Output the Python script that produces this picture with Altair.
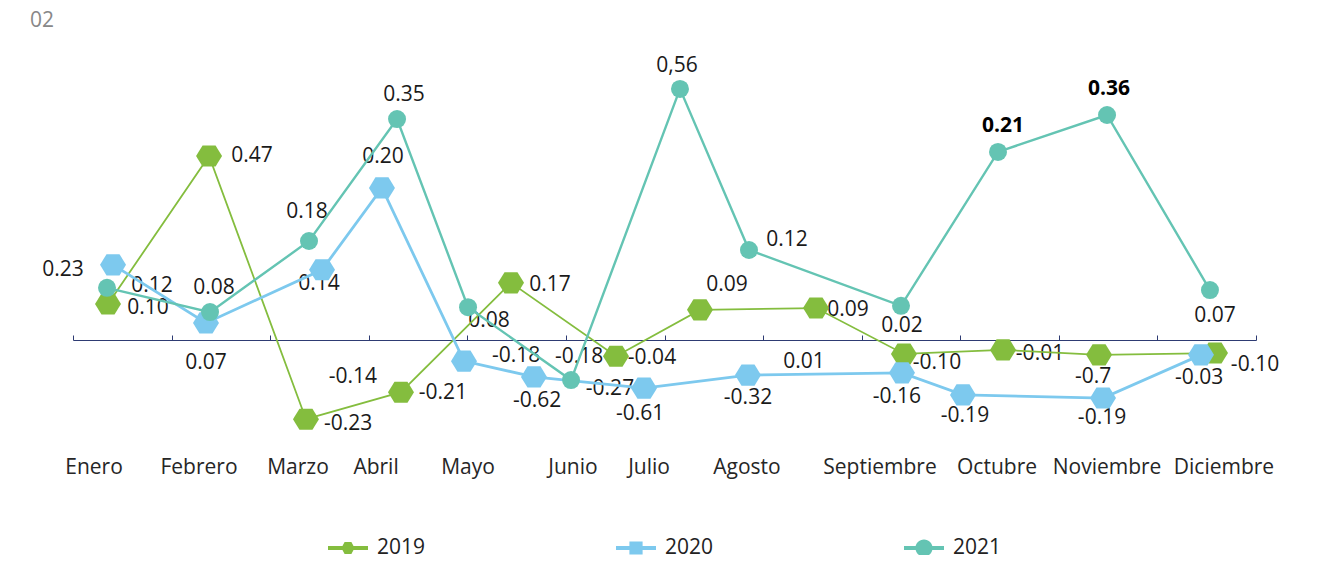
import altair as alt
import pandas as pd

# ---------------- data ----------------
months = ["Enero", "Febrero", "Marzo", "Abril", "Mayo", "Junio", "Julio",
          "Agosto", "Septiembre", "Octubre", "Noviembre", "Diciembre"]
# where each month name sits along the month axis (0..12)
month_pos = [0.213, 1.278, 2.282, 3.074, 4.007, 5.072, 5.843, 6.837,
             8.186, 9.373, 10.489, 11.675]

years = ["2019", "2020", "2021"]

x_2019 = [0.355, 1.380, 2.363, 3.327, 4.443, 5.508, 6.360, 7.537, 8.429, 9.434, 10.408, 11.584]
y_2019 = [0.080, 0.409, -0.176, -0.116, 0.127, -0.036, 0.067, 0.071, -0.031, -0.022, -0.033, -0.029]

x_2020 = [0.406, 1.349, 2.526, 3.134, 3.966, 4.676, 5.792, 6.847, 8.409, 9.028, 10.448, 11.442]
y_2020 = [0.167, 0.038, 0.156, 0.338, -0.047, -0.082, -0.107, -0.078, -0.073, -0.122, -0.129, -0.033]

x_2021 = [0.345, 1.390, 2.394, 3.287, 4.007, 5.052, 6.157, 6.857, 8.399, 9.383, 10.489, 11.533]
y_2021 = [0.116, 0.062, 0.220, 0.491, 0.073, -0.089, 0.558, 0.200, 0.076, 0.418, 0.500, 0.111]

label_text = ["0.23", "0.12", "0.10", "0.08", "0.07", "0.47", "0.35", "0.20", "0.18", "0.14",
              "-0.23", "-0.14", "-0.21", "0.08", "0.17", "-0.18", "-0.62", "-0.18", "-0.27",
              "-0.04", "-0.61", "0,56", "0.09", "0.12", "-0.32", "0.01", "0.09", "0.02",
              "-0.10", "-0.16", "-0.19", "0.21", "-0.01", "0.36", "-0.7", "-0.19", "0.07",
              "-0.03", "-0.10"]
label_x = [-0.101, 0.801, 0.761, 1.430, 1.349, 1.816, 3.358, 3.145, 2.374, 2.495,
           2.790, 2.840, 3.753, 4.220, 4.839, 4.494, 4.707, 5.133, 5.447,
           5.873, 5.752, 6.127, 6.634, 7.243, 6.847, 7.415, 7.861, 8.409,
           8.764, 8.358, 9.048, 9.434, 9.809, 10.509, 10.347, 10.438, 11.584,
           11.422, 11.990]
label_y = [0.156, 0.120, 0.071, 0.116, -0.051, 0.409, 0.544, 0.407, 0.284, 0.124,
           -0.187, -0.082, -0.118, 0.042, 0.122, -0.036, -0.136, -0.038, -0.109,
           -0.040, -0.164, 0.609, 0.122, 0.222, -0.129, -0.049, 0.067, 0.031,
           -0.051, -0.127, -0.169, 0.476, -0.031, 0.558, -0.082, -0.173, 0.053,
           -0.084, -0.056]
label_bold = [False] * 31 + [True, False, True] + [False] * 5

# ---------------- styling ----------------
C19, C20, C21 = "#84BD3E", "#7DC9EE", "#64C4B3"
FONT = "Open Sans"
HEX = "M-1,0L-0.5,-0.81L0.5,-0.81L1,0L0.5,0.81L-0.5,0.81Z"
LEG_PATHS = [
    "M-1,-0.1H1V0.1H-1Z M-0.33,0L-0.17,-0.3L0.17,-0.3L0.33,0L0.17,0.3L-0.17,0.3Z",
    "M-1,-0.1H1V0.1H-1Z M-0.33,-0.33H0.33V0.33H-0.33Z",
    "M-1,-0.1H1V0.1H-1Z M-0.43,0A0.43,0.43 0 1,1 0.43,0A0.43,0.43 0 1,1 -0.43,0Z",
]

xaxis = alt.Axis(orient="top", offset=-288, values=list(range(13)), labels=False,
                 ticks=True, tickSize=5, tickColor="#2E3B73", domainColor="#2E3B73",
                 domainWidth=1.2, tickWidth=1, grid=False, title=None)
xscale = alt.Scale(domain=[0, 12], nice=False, zero=False)
yscale = alt.Scale(domain=[-0.36, 0.64], nice=False, zero=False)


def X(field):
    return alt.X(field, type="quantitative", scale=xscale, axis=xaxis)


def Y(field):
    return alt.Y(field, type="quantitative", scale=yscale, axis=None)


def series_df(xs, ys):
    return pd.DataFrame({"x": xs, "y": ys, "month": months})


s19 = series_df(x_2019, y_2019)
s20 = series_df(x_2020, y_2020)
s21 = series_df(x_2021, y_2021)

labels = pd.DataFrame({"t": label_text, "x": label_x, "y": label_y, "bold": label_bold})
month_df = pd.DataFrame({"m": months, "x": month_pos})

lbl_normal = alt.Chart(labels).transform_filter("!datum.bold").mark_text(
    font=FONT, fontSize=21, color="#1A1A1A", align="center", baseline="middle"
).encode(x=X("x"), y=Y("y"), text="t:N")

lbl_bold = alt.Chart(labels).transform_filter("datum.bold").mark_text(
    font=FONT, fontSize=21, fontWeight="bold", color="#000000", align="center", baseline="middle"
).encode(x=X("x"), y=Y("y"), text="t:N")


def line(df, color, w):
    return alt.Chart(df).mark_line(color=color, strokeWidth=w).encode(x=X("x"), y=Y("y"))


def pts(df, color, shape, size):
    return alt.Chart(df).mark_point(filled=True, shape=shape, size=size, color=color,
                                    opacity=1, strokeWidth=0).encode(x=X("x"), y=Y("y"))


month_lbl = alt.Chart(month_df).mark_text(
    font=FONT, fontSize=21, color="#262626", align="center", baseline="middle"
).encode(x=X("x"), y=alt.value(416), text="m:N")

corner = alt.Chart(pd.DataFrame({"t": ["02"]})).mark_text(
    font=FONT, fontSize=21, color="#888888", align="center", baseline="middle"
).encode(x=alt.value(-31), y=alt.value(-31), text="t:N")

leg = alt.Legend(orient="none", legendX=255, legendY=476, direction="horizontal",
                 columns=3, columnPadding=190, title=None, labelFont=FONT,
                 labelFontSize=21, labelColor="#222222", labelOffset=9, padding=0,
                 labelLimit=0, symbolSize=1600, symbolStrokeWidth=0, symbolOpacity=1)

legend_layer = alt.Chart(pd.DataFrame({"year": years})).transform_filter("false").mark_point(
    filled=True, size=1600, opacity=1, strokeWidth=0
).encode(
    color=alt.Color("year:N", scale=alt.Scale(domain=years, range=[C19, C20, C21]), legend=leg),
    shape=alt.Shape("year:N", scale=alt.Scale(domain=years, range=LEG_PATHS), legend=leg),
)

chart = alt.layer(
    lbl_normal, lbl_bold,
    line(s19, C19, 1.8), line(s20, C20, 2.8), line(s21, C21, 2.4),
    pts(s19, C19, HEX, 676), pts(s20, C20, HEX, 676), pts(s21, C21, "circle", 324),
    month_lbl, corner, legend_layer,
).properties(
    width=1183, height=450,
    padding={"left": 65, "top": 44, "right": 56, "bottom": 53},
    autosize=alt.AutoSizeParams(type="none"),
    background="white",
).configure_view(stroke=None)

chart.save("out.html", embed_options={"renderer": "svg", "actions": False})
